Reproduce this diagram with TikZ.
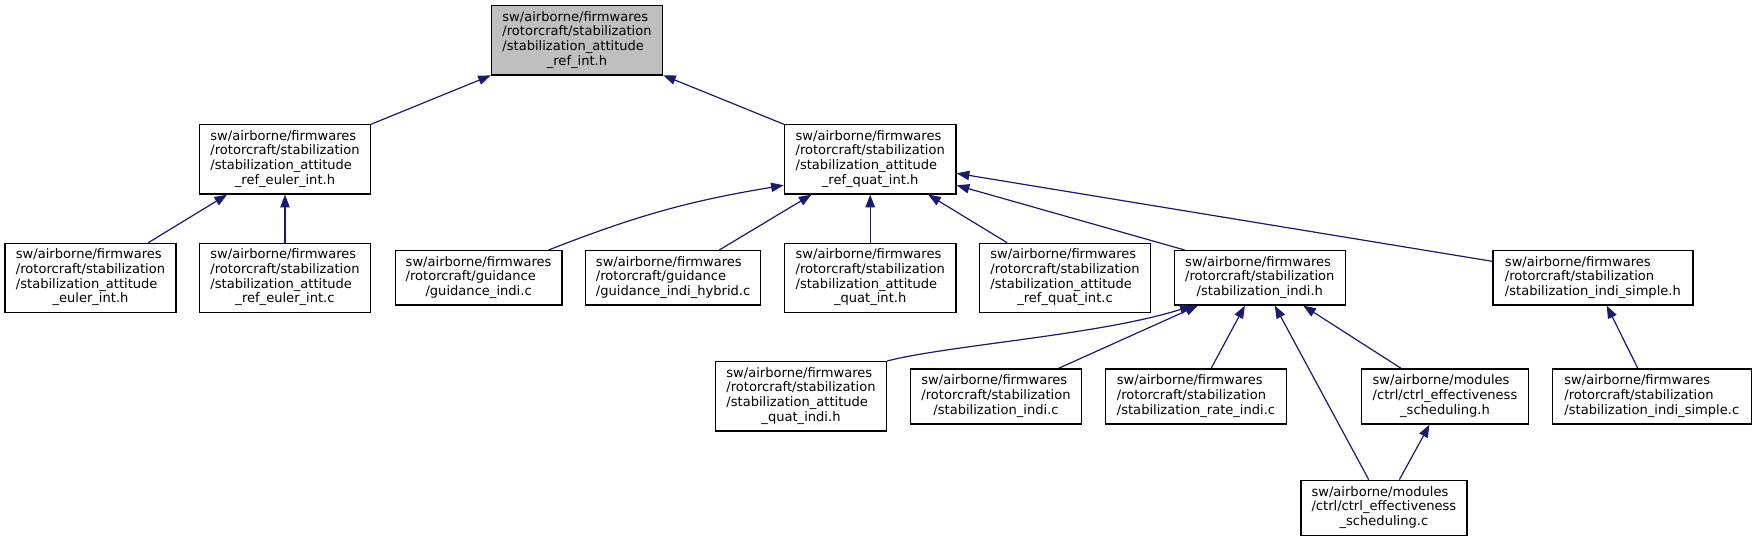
\documentclass[tikz,border=0pt]{standalone}
\usepackage{fontspec}
\setmainfont{DejaVu Sans}
\usetikzlibrary{arrows.meta,calc}
\definecolor{edgeblue}{HTML}{191970}
\definecolor{topgray}{HTML}{BFBFBF}
\newcommand\dlab[2]{\begin{tabular}{@{}l@{}}#1\\\multicolumn{1}{@{}c@{}}{#2}\end{tabular}}
\tikzset{
  box/.style={draw=black, line width=1pt, fill=white, inner sep=0pt, font=\fontsize{9.8}{11}\selectfont},
  edge/.style={draw=edgeblue, line width=0.9pt, -{Triangle[length=9.5pt,width=7pt]}},
}
\newcommand\bx[6]{\node[box,minimum width={#4*0.75pt},minimum height={#5*0.75pt},#6] (#1) at (#2,#3)}
\begin{document}
\begin{tikzpicture}[x=0.75pt,y=-0.75pt]
\useasboundingbox (0,0) rectangle (1757,541);
\bx{top}{577}{40.3}{171}{69.3}{fill=topgray}{\dlab{sw/airborne/firmwares\\/rotorcraft/stabilization\\/stabilization\_attitude}{\_ref\_int.h}};
\bx{reh}{285}{159.3}{171}{69.3}{}{\dlab{sw/airborne/firmwares\\/rotorcraft/stabilization\\/stabilization\_attitude}{\_ref\_euler\_int.h}};
\bx{rqh}{870.2}{159.3}{171.6}{69.3}{}{\dlab{sw/airborne/firmwares\\/rotorcraft/stabilization\\/stabilization\_attitude}{\_ref\_quat\_int.h}};
\bx{eih}{90.5}{278}{171}{69.3}{}{\dlab{sw/airborne/firmwares\\/rotorcraft/stabilization\\/stabilization\_attitude}{\_euler\_int.h}};
\bx{rec}{285}{278}{171}{69.3}{}{\dlab{sw/airborne/firmwares\\/rotorcraft/stabilization\\/stabilization\_attitude}{\_ref\_euler\_int.c}};
\bx{gic}{478.6}{277.8}{166.5}{54.3}{}{\dlab{sw/airborne/firmwares\\/rotorcraft/guidance}{/guidance\_indi.c}};
\bx{ghc}{673.1}{277.8}{175.3}{54.3}{}{\dlab{sw/airborne/firmwares\\/rotorcraft/guidance}{/guidance\_indi\_hybrid.c}};
\bx{qih}{870.2}{278}{171.6}{69.3}{}{\dlab{sw/airborne/firmwares\\/rotorcraft/stabilization\\/stabilization\_attitude}{\_quat\_int.h}};
\bx{rqc}{1065}{278}{170.5}{69.3}{}{\dlab{sw/airborne/firmwares\\/rotorcraft/stabilization\\/stabilization\_attitude}{\_ref\_quat\_int.c}};
\bx{sih}{1259.8}{277.8}{171}{54.3}{}{\dlab{sw/airborne/firmwares\\/rotorcraft/stabilization}{/stabilization\_indi.h}};
\bx{ssh}{1592.9}{277.8}{200}{54.3}{}{\dlab{sw/airborne/firmwares\\/rotorcraft/stabilization}{/stabilization\_indi\_simple.h}};
\bx{qdh}{801}{396.3}{170.8}{69.3}{}{\dlab{sw/airborne/firmwares\\/rotorcraft/stabilization\\/stabilization\_attitude}{\_quat\_indi.h}};
\bx{sic}{996}{396.5}{171}{55}{}{\dlab{sw/airborne/firmwares\\/rotorcraft/stabilization}{/stabilization\_indi.c}};
\bx{rtc}{1196}{396.5}{181.5}{55}{}{\dlab{sw/airborne/firmwares\\/rotorcraft/stabilization}{/stabilization\_rate\_indi.c}};
\bx{csh}{1445}{396.5}{166.6}{55}{}{\dlab{sw/airborne/modules\\/ctrl/ctrl\_effectiveness}{\_scheduling.h}};
\bx{ssc}{1651.8}{396.5}{199}{55}{}{\dlab{sw/airborne/firmwares\\/rotorcraft/stabilization}{/stabilization\_indi\_simple.c}};
\bx{csc}{1383.9}{507.8}{166}{55}{}{\dlab{sw/airborne/modules\\/ctrl/ctrl\_effectiveness}{\_scheduling.c}};
% edges
\draw[edge] (reh) -- (top);
\draw[edge] (rqh) -- (top);
\draw[edge] (eih) -- (reh);
\draw[edge] (rec) -- (reh);
\draw[edge] ($(gic.north west)+(154,0)$) to[bend left=6] ($(rqh.west)+(0,26)$);
\draw[edge] (ghc) -- (rqh);
\draw[edge] (qih) -- (rqh);
\draw[edge] (rqc) -- (rqh);
\draw[edge] ($(sih.north west)+(11,0)$) -- ($(rqh.east)+(0,26)$);
\draw[edge] (ssh) -- (rqh);
\draw[edge] (qdh.north east) .. controls (950,345) and (1100,335) .. ($(sih.south west)+(19,0)$);
\draw[edge] (sic) -- (sih);
\draw[edge] (rtc) -- (sih);
\draw[edge] (csc) -- (sih);
\draw[edge] (csh) -- (sih);
\draw[edge] (csc) -- (csh);
\draw[edge] (ssc) -- (ssh);
\end{tikzpicture}
\end{document}
